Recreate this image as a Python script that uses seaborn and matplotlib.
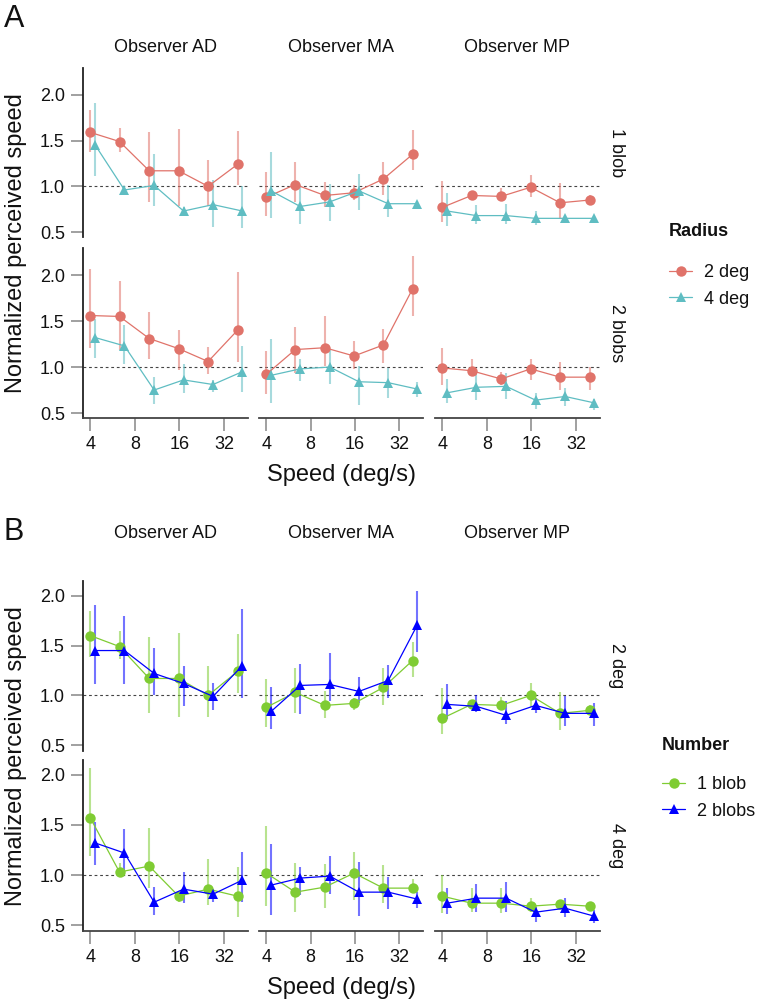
import matplotlib
matplotlib.use('Agg')
import pandas as pd
import matplotlib.pyplot as plt
import seaborn as sns
from matplotlib.lines import Line2D

observers = ['AD', 'MA', 'MP']
speeds = [4, 6.3, 10, 15.8, 25, 39.5]
speed_ticks = [4, 8, 16, 32]
y_ticks = [0.5, 1.0, 1.5, 2.0]

# panel A: rows = number of blobs, lines = radius
a_rows = ['1 blob', '2 blobs']
a_groups = ['2 deg', '4 deg']
a_colors = ['#E0736A', '#5FBDC2']

# one inner list per observer (AD, MA, MP), one value per speed
a_blob1_deg2 = [[1.59, 1.49, 1.17, 1.17, 1.00, 1.24],
                [0.88, 1.02, 0.90, 0.93, 1.08, 1.35],
                [0.77, 0.90, 0.89, 0.99, 0.82, 0.85]]
a_blob1_deg2_lo = [[1.38, 1.37, 0.83, 0.78, 0.78, 1.02],
                   [0.68, 0.83, 0.77, 0.85, 0.90, 1.18],
                   [0.61, 0.86, 0.85, 0.88, 0.64, 0.80]]
a_blob1_deg2_hi = [[1.84, 1.64, 1.59, 1.63, 1.29, 1.61],
                   [1.16, 1.27, 1.05, 1.01, 1.27, 1.62],
                   [1.06, 0.94, 0.98, 1.12, 1.04, 0.90]]

a_blob1_deg4 = [[1.45, 0.96, 1.01, 0.73, 0.80, 0.73],
                [0.95, 0.78, 0.83, 0.95, 0.81, 0.81],
                [0.73, 0.68, 0.68, 0.65, 0.65, 0.65]]
a_blob1_deg4_lo = [[1.11, 0.92, 0.79, 0.70, 0.56, 0.54],
                   [0.65, 0.59, 0.62, 0.74, 0.67, 0.75],
                   [0.57, 0.59, 0.59, 0.58, 0.60, 0.62]]
a_blob1_deg4_hi = [[1.91, 1.00, 1.35, 0.77, 1.07, 1.00],
                   [1.37, 1.01, 1.03, 1.14, 1.02, 0.84],
                   [0.93, 0.80, 0.81, 0.73, 0.69, 0.68]]

a_blob2_deg2 = [[1.56, 1.55, 1.31, 1.20, 1.06, 1.40],
                [0.92, 1.19, 1.21, 1.12, 1.24, 1.85],
                [0.99, 0.96, 0.87, 0.98, 0.89, 0.89]]
a_blob2_deg2_lo = [[1.21, 1.19, 1.09, 0.97, 0.92, 1.05],
                   [0.71, 0.93, 1.01, 0.98, 1.04, 1.56],
                   [0.81, 0.90, 0.80, 0.86, 0.75, 0.75]]
a_blob2_deg2_hi = [[2.07, 1.93, 1.60, 1.40, 1.22, 2.03],
                   [1.17, 1.43, 1.55, 1.28, 1.41, 2.21],
                   [1.21, 1.09, 0.95, 1.09, 1.06, 1.00]]

a_blob2_deg4 = [[1.32, 1.23, 0.75, 0.86, 0.81, 0.95],
                [0.91, 0.98, 1.00, 0.84, 0.83, 0.76],
                [0.72, 0.78, 0.79, 0.64, 0.68, 0.61]]
a_blob2_deg4_lo = [[1.10, 1.03, 0.60, 0.72, 0.73, 0.73],
                   [0.61, 0.85, 0.82, 0.59, 0.66, 0.67],
                   [0.61, 0.64, 0.65, 0.54, 0.58, 0.53]]
a_blob2_deg4_hi = [[1.52, 1.46, 0.89, 1.03, 0.86, 1.23],
                   [1.31, 1.09, 1.19, 1.01, 0.99, 0.84],
                   [0.87, 0.92, 0.93, 0.72, 0.77, 0.65]]

# panel B: rows = radius, lines = number of blobs
b_rows = ['2 deg', '4 deg']
b_groups = ['1 blob', '2 blobs']
b_colors = ['#7FCC33', '#0000FF']

b_deg2_blob1 = [[1.60, 1.49, 1.17, 1.17, 1.00, 1.24],
                [0.88, 1.03, 0.90, 0.92, 1.08, 1.35],
                [0.77, 0.91, 0.90, 1.00, 0.82, 0.85]]
b_deg2_blob1_lo = [[1.39, 1.37, 0.82, 0.78, 0.78, 1.02],
                   [0.68, 0.82, 0.77, 0.85, 0.90, 1.18],
                   [0.61, 0.88, 0.86, 0.88, 0.65, 0.81]]
b_deg2_blob1_hi = [[1.85, 1.65, 1.59, 1.63, 1.29, 1.62],
                   [1.16, 1.27, 1.04, 0.97, 1.27, 1.54],
                   [1.07, 0.93, 0.98, 1.12, 1.03, 0.90]]

b_deg2_blob2 = [[1.45, 1.45, 1.22, 1.12, 0.99, 1.30],
                [0.84, 1.10, 1.11, 1.04, 1.15, 1.71],
                [0.91, 0.89, 0.80, 0.90, 0.82, 0.82]]
b_deg2_blob2_lo = [[1.11, 1.11, 1.00, 0.89, 0.85, 0.97],
                   [0.66, 0.81, 0.94, 0.92, 0.97, 1.44],
                   [0.76, 0.83, 0.71, 0.82, 0.69, 0.69]]
b_deg2_blob2_hi = [[1.91, 1.80, 1.48, 1.30, 1.12, 1.87],
                   [1.08, 1.32, 1.43, 1.18, 1.31, 2.05],
                   [1.11, 1.00, 0.94, 0.97, 0.99, 0.92]]

b_deg4_blob1 = [[1.57, 1.03, 1.09, 0.79, 0.86, 0.79],
                [1.02, 0.83, 0.88, 1.02, 0.87, 0.87],
                [0.79, 0.72, 0.72, 0.69, 0.71, 0.69]]
b_deg4_blob1_lo = [[1.19, 0.98, 0.87, 0.73, 0.70, 0.58],
                   [0.69, 0.63, 0.67, 0.75, 0.72, 0.82],
                   [0.62, 0.63, 0.62, 0.63, 0.68, 0.67]]
b_deg4_blob1_hi = [[2.07, 1.12, 1.47, 0.83, 1.16, 1.08],
                   [1.49, 1.12, 1.11, 1.23, 1.10, 0.96],
                   [1.00, 0.87, 0.87, 0.77, 0.74, 0.71]]

b_deg4_blob2 = [[1.32, 1.22, 0.73, 0.86, 0.81, 0.95],
                [0.90, 0.97, 0.99, 0.83, 0.83, 0.76],
                [0.72, 0.77, 0.77, 0.63, 0.67, 0.59]]
b_deg4_blob2_lo = [[1.10, 1.03, 0.60, 0.72, 0.73, 0.73],
                   [0.60, 0.80, 0.81, 0.59, 0.66, 0.67],
                   [0.61, 0.63, 0.63, 0.53, 0.58, 0.52]]
b_deg4_blob2_hi = [[1.53, 1.46, 0.88, 1.03, 0.86, 1.23],
                   [1.31, 1.08, 1.19, 1.13, 0.98, 0.83],
                   [0.87, 0.91, 0.93, 0.68, 0.77, 0.65]]

W, H = 761, 1005


def px(x, y):
    return x / W, 1 - y / H


def build_frame(rows, groups, tables):
    records = []
    for (r, g), (mean, lo, hi) in tables.items():
        for oi, obs in enumerate(observers):
            for si, s in enumerate(speeds):
                records.append({'row': rows[r], 'group': groups[g], 'observer': obs,
                                'speed': s, 'mean': mean[oi][si],
                                'lo': lo[oi][si], 'hi': hi[oi][si]})
    df = pd.DataFrame(records)
    # small dodge on the log axis for the second group
    df['x'] = df['speed'] * df['group'].map({groups[0]: 1.0, groups[1]: 1.08})
    return df


df_a = build_frame(a_rows, a_groups, {
    (0, 0): (a_blob1_deg2, a_blob1_deg2_lo, a_blob1_deg2_hi),
    (0, 1): (a_blob1_deg4, a_blob1_deg4_lo, a_blob1_deg4_hi),
    (1, 0): (a_blob2_deg2, a_blob2_deg2_lo, a_blob2_deg2_hi),
    (1, 1): (a_blob2_deg4, a_blob2_deg4_lo, a_blob2_deg4_hi),
})
df_b = build_frame(b_rows, b_groups, {
    (0, 0): (b_deg2_blob1, b_deg2_blob1_lo, b_deg2_blob1_hi),
    (0, 1): (b_deg2_blob2, b_deg2_blob2_lo, b_deg2_blob2_hi),
    (1, 0): (b_deg4_blob1, b_deg4_blob1_lo, b_deg4_blob1_hi),
    (1, 1): (b_deg4_blob2, b_deg4_blob2_lo, b_deg4_blob2_hi),
})

sns.set_style('white')
plt.rcParams['font.family'] = ['Liberation Sans', 'DejaVu Sans']
plt.rcParams['text.color'] = '#111111'

fig = plt.figure(figsize=(W / 100, H / 100), dpi=100)

cols_px = [(83, 248), (259, 423), (435, 600)]


def draw_panel(df, rows, groups, colors, rows_px, letter, letter_y, title_y,
               legend_title, legend_title_y, legend_y, legend_x):
    span = df['hi'].max() - df['lo'].min()
    ylim = (df['lo'].min() - 0.05 * span, df['hi'].max() + 0.05 * span)
    for ri, (y0, y1) in enumerate(rows_px):
        for ci, (x0, x1) in enumerate(cols_px):
            l, t = px(x0, y0)
            r, b = px(x1, y1)
            ax = fig.add_axes([l, b, r - l, t - b])
            sub = df[(df['row'] == rows[ri]) & (df['observer'] == observers[ci])]
            ax.axhline(1.0, color='#444444', lw=0.8, ls=(0, (2.5, 2.5)), zorder=0)
            for g, c in zip(groups, colors):
                d = sub[sub['group'] == g]
                ax.vlines(d['x'], d['lo'], d['hi'], color=c, alpha=0.55, lw=1.5, zorder=1)
            sns.lineplot(data=sub, x='x', y='mean', hue='group', style='group',
                         hue_order=groups, style_order=groups, palette=colors,
                         markers=['o', '^'], dashes=False, estimator=None,
                         sort=True, lw=0.9, markersize=7.5, markeredgewidth=0,
                         legend=False, ax=ax, zorder=3)
            ax.set_xscale('log', base=2)
            ax.set_xlim(3.57, 46.5)
            ax.set_ylim(*ylim)
            ax.set_xlabel('')
            ax.set_ylabel('')
            ax.minorticks_off()
            for s in ax.spines.values():
                s.set_visible(False)
            ax.set_xticks(speed_ticks)
            ax.set_yticks(y_ticks)
            ax.tick_params(axis='both', length=9, width=1.3, color='#999999',
                           labelsize=13, pad=4, labelcolor='#111111')
            if ci == 0:
                ax.spines['left'].set_visible(True)
                ax.spines['left'].set_color('#222222')
                ax.spines['left'].set_linewidth(1.3)
                ax.tick_params(axis='y', left=True, labelleft=True)
                ax.set_yticklabels([f'{v:.1f}' for v in y_ticks])
            else:
                ax.tick_params(axis='y', left=False, labelleft=False)
            if ri == len(rows_px) - 1:
                ax.spines['bottom'].set_visible(True)
                ax.spines['bottom'].set_color('#444444')
                ax.spines['bottom'].set_linewidth(1.3)
                ax.tick_params(axis='x', bottom=True, labelbottom=True)
                ax.set_xticklabels([str(v) for v in speed_ticks])
            else:
                ax.tick_params(axis='x', bottom=False, labelbottom=False)
            if ri == 0:
                fig.text(*px((x0 + x1) / 2, title_y), f'Observer {observers[ci]}',
                         ha='center', va='center', fontsize=13)
        fig.text(*px(617, (y0 + y1) / 2), rows[ri], rotation=-90,
                 ha='center', va='center', fontsize=13)

    top, bottom = rows_px[0][0], rows_px[-1][1]
    fig.text(*px(16, (top + bottom) / 2), 'Normalized perceived speed', rotation=90,
             ha='center', va='center', fontsize=17)
    fig.text(*px(341.5, bottom + 57), 'Speed (deg/s)', ha='center', va='center',
             fontsize=17)
    fig.text(*px(4, letter_y), letter, ha='left', va='center', fontsize=22)

    fig.text(*px(legend_x, legend_title_y), legend_title, ha='left', va='center',
             fontsize=13, fontweight='bold')
    handles = [Line2D([], [], color=c, marker=m, lw=0.9, markersize=7.5, markeredgewidth=0)
               for c, m in zip(colors, ['o', '^'])]
    fig.legend(handles, groups, loc='center left', bbox_to_anchor=px(legend_x, legend_y),
               frameon=False, fontsize=13, borderpad=0, borderaxespad=0,
               handlelength=1.3, handletextpad=0.65, labelspacing=0.5)


draw_panel(df_a, a_rows, a_groups, a_colors, [(68, 237), (248, 418)], 'A', 19, 48,
           'Radius', 232, 286, 669)
draw_panel(df_b, b_rows, b_groups, b_colors, [(581, 751), (760, 931)], 'B', 532, 533,
           'Number', 745, 798, 662)

fig.savefig('out.png', dpi=100)
